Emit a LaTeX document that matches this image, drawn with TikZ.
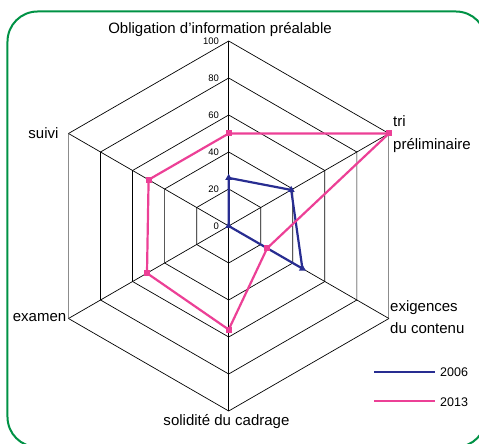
\documentclass[tikz,border=0pt]{standalone}
\usepackage{fontspec}
\setmainfont{Liberation Sans}
\usetikzlibrary{shapes.geometric}
\definecolor{framegreen}{RGB}{0,146,69}
\definecolor{pinkline}{RGB}{236,64,150}
\definecolor{blueline}{RGB}{40,45,145}
\definecolor{sidegray}{RGB}{140,140,140}
\begin{document}
\begin{tikzpicture}[x=1pt,y=1pt,
  grid/.style={line width=0.7pt, black},
  lbl/.style={font=\fontsize{15}{18}\selectfont, inner sep=0pt, anchor=base west},
  tick/.style={font=\fontsize{9.5}{11}\selectfont, inner sep=0pt, anchor=east},
  legtxt/.style={font=\fontsize{12.5}{15}\selectfont, inner sep=0pt, anchor=base west},
  ser06/.style={blueline, line width=2.2pt, line join=round},
  ser13/.style={pinkline, line width=2.2pt, line join=round},
  sqmark/.style={fill=pinkline, minimum size=6pt, inner sep=0pt, draw=none, rectangle},
  trimark/.style={fill=blueline, regular polygon, regular polygon sides=3, minimum size=8pt, inner sep=0pt, draw=none}
]
\useasboundingbox (-228.7,-218) rectangle (250.3,226);
\begin{scope}
\clip (-228.7,-218) rectangle (250.3,226);
\draw[framegreen, line width=2pt, rounded corners=30pt] (-221.2,214.5) rectangle (257.3,-221);
\end{scope}

% grid rings
\foreach \r in {20,40,60,80} {
  \draw[grid] (90:{\r*1.85}) -- (30:{\r*1.85}) -- (-30:{\r*1.85}) -- (-90:{\r*1.85}) -- (-150:{\r*1.85}) -- (150:{\r*1.85}) -- cycle;
}
\draw[grid] (-30:185) -- (-90:185) -- (-150:185);
\draw[grid] (150:185) -- (90:185) -- (30:185);
\draw[line width=0.9pt, sidegray] (30:185) -- (-30:185);
\draw[line width=0.9pt, sidegray] (150:185) -- (-150:185);
% spokes
\coordinate (c) at (0,0);
\foreach \a in {90,30,-30,-90,-150,150} {
  \draw[grid] (c) -- (\a:185);
}
% tick labels
\foreach \v in {0,20,40,60,80,100} {
  \node[tick] (t\v) at (-9.5,{\v*1.85}) {\v};
}

% 2006 series
\coordinate (b1) at (90:{26*1.85});
\coordinate (b2) at (30:{39*1.85});
\coordinate (b3) at (-30:{46*1.85});
\coordinate (b0) at (0,0);
\draw[ser06] (b0) -- (b1) -- (b2) -- (b3) -- cycle;
\foreach \n in {0,1,2,3} { \node[trimark] (mb\n) at (b\n) {}; }

% 2013 series
\coordinate (p1) at (90:{50*1.85});
\coordinate (p2) at (30:{100*1.85});
\coordinate (p3) at (-30:{24*1.85});
\coordinate (p4) at (-90:{56*1.85});
\coordinate (p5) at (-150:{51*1.85});
\coordinate (p6) at (150:{50*1.85});
\draw[ser13] (p1) -- (p2) -- (p3) -- (p4) -- (p5) -- (p6) -- cycle;
\foreach \n in {1,...,6} { \node[sqmark] (mp\n) at (p\n) {}; }

% axis labels
\node[lbl, anchor=base] (lobl) at (-8.7,192.5) {Obligation d’information préalable};
\node[lbl] (ltri) at (164.3,99.3) {tri};
\node[lbl] (lpre) at (164.3,76) {préliminaire};
\node[lbl] (lexi) at (161.3,-85.5) {exigences};
\node[lbl] (ldu) at (161.3,-107.5) {du contenu};
\node[lbl] (lsol) at (-65.4,-199) {solidité du cadrage};
\node[lbl] (lexa) at (-216,-95.7) {examen};
\node[lbl] (lsui) at (-200.4,87.7) {suivi};

% legend
\coordinate (la1) at (145.3,-145.7);
\coordinate (la2) at (206.3,-145.7);
\coordinate (lb1) at (145.3,-175);
\coordinate (lb2) at (206.3,-175);
\draw[blueline, line width=2pt] (la1) -- (la2);
\draw[pinkline, line width=2pt] (lb1) -- (lb2);
\node[legtxt] (l06) at (211.3,-150) {2006};
\node[legtxt] (l13) at (211.3,-180) {2013};
\end{tikzpicture}
\end{document}
